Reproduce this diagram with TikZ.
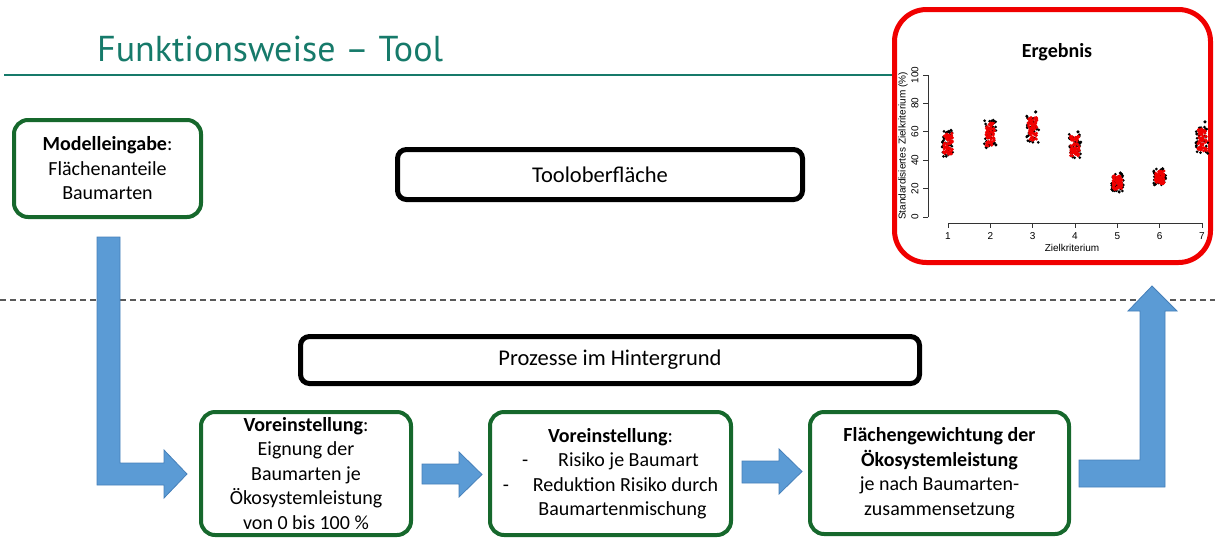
\documentclass[tikz,border=0pt]{standalone}
\usepackage{fontspec}
\setmainfont{Carlito}
\newfontfamily\titlefont{PT Sans}
\newfontfamily\plotfont{Liberation Sans}
\usepackage{tikz}
\usetikzlibrary{calc}

\definecolor{titeal}{RGB}{22,122,106}
\definecolor{boxgreen}{RGB}{22,104,44}
\definecolor{arrblue}{RGB}{91,155,213}
\definecolor{arrline}{RGB}{70,128,185}
\definecolor{ergred}{RGB}{240,0,0}

\tikzset{
  greenbox/.style={draw=boxgreen,line width=4pt,rounded corners=14pt,fill=white,align=center,inner sep=0pt,font=\fontsize{20}{24.5}\selectfont},
  blackbox/.style={draw=black,line width=5pt,rounded corners=9pt,fill=white,inner sep=0pt,font=\fontsize{22.5}{26}\selectfont},
  blockarr/.style={fill=arrblue,draw=arrline,line width=0.8pt,line join=miter},
  plottext/.style={inner sep=0pt,font=\plotfont\fontsize{10}{12}\selectfont}
}

\begin{document}
\begin{tikzpicture}[x=1pt,y=-1pt]
\useasboundingbox (0,0) rectangle (1215,539);
\node[anchor=base west,inner sep=0pt,text=titeal,font=\titlefont\fontsize{36}{40}\selectfont] (title) at (97,61) {Funktionsweise – Tool};
\draw[titeal,line width=1.5pt] (4,75) -- (1000,75);
\draw[gray!70!black,line width=1.2pt,dash pattern=on 6pt off 4pt] (0,300) -- (1215,300);

\node[greenbox,minimum width=187pt,minimum height=97pt] (mdlin) at (107.5,168.5) {\textbf{Modelleingabe}:\\Flächenanteile\\Baumarten};
\node[blackbox,minimum width=405pt,minimum height=50pt] (tool) at (600,174.5) {Tooloberfläche};
\node[blackbox,minimum width=619pt,minimum height=47pt] (proz) at (610,360) {Prozesse im Hintergrund};
\node[greenbox,minimum width=210pt,minimum height=123pt] (vor1) at (306,473.5) {\textbf{Voreinstellung}:\\Eignung der\\Baumarten je\\Ökosystemleistung\\von 0 bis 100 \%};
\node[greenbox,minimum width=241pt,minimum height=123pt] (vor2) at (610.5,473.5) {\textbf{Voreinstellung}:\\-\hspace{1.5em}Risiko je Baumart\\-\hspace{1.2em}Reduktion Risiko durch\\\hspace*{1.2em}Baumartenmischung};
\node[greenbox,minimum width=259pt,minimum height=122pt] (flgew) at (939.5,473) {\textbf{Flächengewichtung der}\\\textbf{Ökosystemleistung}\\je nach Baumarten-\\zusammensetzung};

\filldraw[blockarr] (97,237) -- (120,237) -- (120,463) -- (164,463) -- (164,450) -- (187,474) -- (164,498) -- (164,485) -- (97,485) -- cycle;
\filldraw[blockarr] (422,464) -- (459,464) -- (459,452) -- (482,474.5) -- (459,497) -- (459,484) -- (422,484) -- cycle;
\filldraw[blockarr] (742,461) -- (779,461) -- (779,449) -- (802,471.5) -- (779,494) -- (779,483) -- (742,483) -- cycle;
\filldraw[blockarr] (1079,460) -- (1140,460) -- (1140,311) -- (1128,311) -- (1152,286) -- (1177,311) -- (1165,311) -- (1165,487) -- (1079,487) -- cycle;

\node[draw=ergred,line width=5pt,rounded corners=32pt,fill=white,minimum width=316pt,minimum height=253pt] (erg) at (1052.5,136) {};
\node[font=\bfseries\fontsize{20}{24}\selectfont] (ergtit) at (1057,52) {Ergebnis};
\draw[line width=0.7pt,black!80] (928,217) -- (928,75);
\foreach \v in {0,20,...,100} {
  \draw[line width=0.7pt,black!80] (928,{217-1.42*\v}) -- ++(-5,0);
  \node[plottext,rotate=90] at (915,{217-1.42*\v}) {\v};
}
\draw[line width=0.7pt,black!80] (948,223) -- (1202,223);
\foreach \k in {1,...,7} {
  \draw[line width=0.7pt,black!80] ({948+(\k-1)*42.33},223) -- ++(0,5);
  \node[plottext] at ({948+(\k-1)*42.33},236) {\k};
}
\node[plottext] (xlab) at (1072,248) {Zielkriterium};
\node[plottext,rotate=90] (ylab) at (903,146) {Standardisiertes Zielkriterium (\%)};
\pgfmathsetseed{42}
\foreach \k/\c/\h/\t in {1/51.5/7.5/61,2/58/8.5/68,3/62/8/74,4/50/7/60,5/24/5/31,6/28/4.5/34,7/54/8/67} {
  \foreach \i in {1,...,45}
    \fill[black] ({948+(\k-1)*42.33+6*rand},{217-1.42*(\c+(\h+1.5)*rand)}) circle (1.5pt);
  \foreach \i in {1,...,70}
    \fill[ergred] ({948+(\k-1)*42.33+4.5*rand},{217-1.42*(\c+\h*rand)}) circle (1.6pt);
  \fill[black] ({948+(\k-1)*42.33+3},{217-1.42*\t}) circle (1.8pt);
}
\end{tikzpicture}
\end{document}
